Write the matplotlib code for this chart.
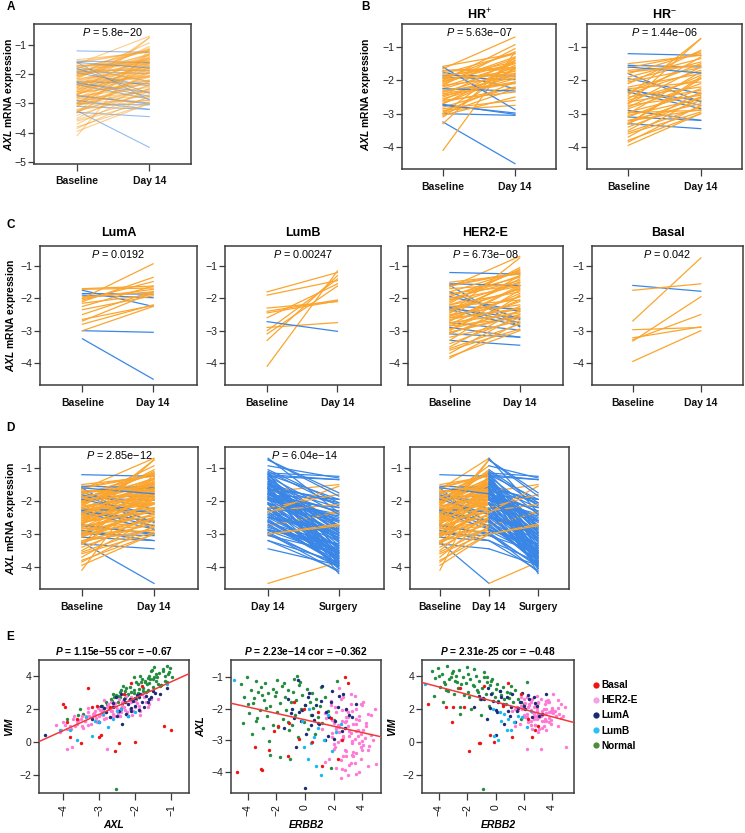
import numpy as np
import matplotlib
matplotlib.use('Agg')
import matplotlib.pyplot as plt
from matplotlib.lines import Line2D

plt.rcParams['font.family'] = ['Liberation Sans', 'DejaVu Sans']
plt.rcParams['mathtext.fontset'] = 'custom'
plt.rcParams['mathtext.rm'] = 'Liberation Sans'
plt.rcParams['mathtext.it'] = 'Liberation Sans:italic'
plt.rcParams['mathtext.bf'] = 'Liberation Sans:italic:bold'

# ---- paired AXL expression per patient (baseline, day 14, surgery) ----
luma_base = [-3.25,-3.00,-1.75,-1.90,-1.85,-2.00,-2.10,-1.70,-1.72,-2.05,-2.25,-2.50,-2.65,-2.70,-3.00,-2.15,-1.95,-2.80,-2.00,-2.35]
luma_d14  = [-4.50,-3.05,-2.25,-1.98,-1.87,-0.93,-1.35,-1.62,-1.68,-1.48,-1.62,-1.78,-2.22,-1.82,-2.25,-1.88,-1.80,-2.20,-1.72,-1.92]
luma_surg = [-3.85,-3.55,-3.60,-2.40,-2.95,-1.30,-2.85,-2.35,-3.20,-2.10,-3.75,-2.55,-4.05,-1.95,-3.40,-2.65,-3.05,-2.60,-3.90,-2.20]

lumb_base = [-1.80,-1.90,-2.30,-2.40,-2.45,-2.60,-2.90,-3.00,-3.10,-3.30,-4.10,-2.72]
lumb_d14  = [-1.20,-1.45,-2.10,-2.05,-2.08,-1.55,-2.75,-1.40,-1.62,-1.30,-1.15,-3.02]
lumb_surg = [-1.35,-2.95,-3.55,-3.05,-2.45,-3.85,-2.30,-3.15,-1.95,-2.75,-3.70,-3.95]

# HER2-enriched, HR positive
her2p_base = [-1.60,-2.25,-2.75,-1.58,-1.65,-1.95,-2.05,-2.20,-2.35,-2.45,-2.55,-2.60,-2.70,-2.85,-2.95,-3.05,-2.15,-1.85]
her2p_d14  = [-2.88,-2.32,-2.98,-1.20,-0.70,-1.15,-1.30,-1.50,-1.72,-1.40,-1.95,-2.35,-1.65,-2.60,-2.05,-2.50,-1.05,-1.60]
her2p_surg = [-3.30,-3.95,-4.15,-1.95,-2.35,-1.25,-3.45,-2.90,-1.50,-3.80,-2.75,-3.10,-4.00,-3.70,-3.65,-3.00,-2.05,-3.55]

# HER2-enriched, HR negative
her2n_base = [-1.20,-1.55,-1.95,-2.30,-2.35,-2.90,-3.10,-3.30,-2.28,-1.80,
              -1.50,-1.62,-1.70,-1.80,-1.90,-2.00,-2.05,-2.10,-2.20,-2.25,-2.35,-2.40,-2.50,-2.55,-2.60,-2.65,-2.70,
              -2.75,-2.80,-2.85,-2.95,-3.00,-3.05,-3.10,-3.20,-3.30,-3.40,-3.50,-3.55,-3.60,-3.70,-3.80,-3.85,-2.45]
her2n_d14  = [-1.25,-1.60,-2.40,-2.62,-2.85,-3.20,-3.20,-3.45,-2.75,-2.65,
              -1.25,-1.20,-1.55,-1.15,-1.35,-1.45,-1.62,-1.10,-1.80,-2.05,-1.50,-1.70,-2.20,-1.30,-1.95,-2.30,-1.60,
              -2.45,-1.85,-2.10,-2.40,-1.75,-2.55,-2.25,-2.70,-1.90,-2.60,-2.35,-2.80,-2.95,-2.50,-3.00,-2.75,-0.75]
her2n_surg = [-1.35,-2.60,-3.75,-3.90,-3.50,-3.85,-4.10,-3.95,-2.35,-3.35,
              -2.40,-3.50,-2.20,-2.80,-3.70,-3.35,-4.20,-2.15,-2.60,-3.40,-2.95,-3.60,-1.80,-3.25,-3.85,-2.10,-2.75,
              -3.55,-3.25,-4.05,-3.20,-2.50,-3.95,-3.10,-3.90,-3.00,-3.75,-1.55,-3.45,-4.00,-2.85,-2.70,-3.80,-1.75]

basal_base = [-1.60,-1.75,-2.70,-2.97,-3.22,-3.28,-3.32,-3.95]
basal_d14  = [-1.78,-1.55,-0.75,-2.90,-2.88,-2.50,-1.95,-3.00]
basal_surg = [-2.30,-2.05,-1.85,-3.65,-3.30,-3.60,-3.15,-2.75]

p_all = '5.8e\u221220'
p_hr = ['5.63e\u221207', '1.44e\u221206']
p_sub = ['0.0192', '0.00247', '6.73e\u221208', '0.042']
p_time = ['2.85e\u221212', '6.04e\u221214']

# ---- scatter data (AXL, VIM, ERBB2) by PAM50 subtype ----
normal_axl = [-1.22,-1.63,-1.02,-2.14,-1.41,-1.83,-2.38,-1.12,-1.49,-2.03,
              -1.33,-2.61,-1.72,-1.18,-2.24,-1.52,-3.46,-1.91,-1.38,-2.52,
              -1.61,-1.09,-2.12,-1.81,-3.52,-1.29,-2.33,-1.62,-2.04,-1.43,
              -2.68,-1.78,-2.52,-1.47,-2.19,-1.73,-2.91,-1.27,-2.02,-1.58,
              -2.42,-1.88,-1.37,-2.63,-1.79,-2.21,-1.51,-1.98,-2.79,-1.69,
              -2.28,-1.92,-2.47,-1.63,-2.08,-3.88,-2.37,-2.81,-3.02,-3.58,
              -1.87,-1.57,-1.48,-1.21,-1.06,-2.29,-1.97,-2.58,-2.43,-1.16,
              -1.31,-2.47,-1.68,-0.98,-1.12]
normal_vim = [4.31,3.88,4.47,3.36,4.12,3.62,3.18,4.63,3.81,3.92,
              4.18,2.91,3.69,4.03,3.27,4.38,1.72,3.53,3.94,2.83,
              3.58,4.14,3.02,3.79,1.98,3.48,3.41,4.02,3.13,3.72,
              2.61,3.29,-2.86,3.91,2.93,3.61,2.18,3.44,2.98,3.83,
              2.72,3.21,3.52,2.47,3.08,2.84,3.33,2.62,2.31,3.02,
              2.68,2.94,2.42,3.17,2.58,1.41,2.29,2.43,2.12,1.63,
              4.01,4.33,4.52,4.41,4.22,3.12,3.64,2.73,3.04,3.68,
              3.39,2.81,3.49,3.93,3.62]
normal_erbb2 = [-4.52,-4.28,-4.07,-3.93,-3.76,-3.63,-3.47,-3.41,-3.27,-3.18,
                -3.06,-2.97,-2.88,-2.79,-2.66,-2.61,-2.48,-2.42,-2.27,-2.23,
                -2.08,-1.97,-1.93,-1.78,-1.72,-1.58,-1.53,-1.37,-1.31,-1.18,
                -1.12,-0.98,-0.88,-0.81,-0.67,-0.62,-0.48,-0.41,-0.28,-0.22,
                -0.07,0.03,0.12,0.18,0.33,0.41,0.52,0.58,0.72,0.79,
                0.93,1.02,1.21,1.38,1.62,1.81,2.03,-3.72,-2.53,-1.04,
                -4.02,-2.99,-2.02,-1.49,-0.79,-3.38,-2.71,-1.88,-1.22,-0.33,
                1.09,-4.38,-3.57,-0.58,2.21]

her2_axl = [-1.55,-1.70,-1.80,-1.90,-2.00,-2.05,-2.10,-2.20,-2.25,-2.30,-2.35,-2.40,-2.45,-2.50,-2.55,-2.60,-2.65,-2.70,-2.75,-2.80,
            -2.85,-2.90,-2.95,-3.00,-3.05,-3.10,-3.20,-3.30,-3.40,-3.50,-3.60,-3.70,-3.80,-3.90,-4.00,-4.10,-4.20,-2.15,-2.42,-2.68,
            -3.15,-3.75,-3.88,-2.00,-2.78,
            -1.65,-1.85,-1.95,-2.08,-2.18,-2.28,-2.38,-2.48,-2.58,-2.68,-2.78,-2.88,-2.98,-3.08,-3.18,-3.28,-3.38,-3.48,-3.58,-3.68,
            -2.12,-2.52,-2.92,-3.32,-3.72,-1.75,-2.33,-2.63,-3.02,-3.45,
            -1.35,-1.60,-1.90,-2.05,-2.22,-2.35,-2.45,-2.55,-2.62,-2.72,-2.82,-2.92,-3.02,-3.12,-3.22,-3.35,-3.48,-3.62,-3.78,-3.95,
            -4.05,-2.25,-2.85,-3.30,-1.85]
her2_vim = [2.60,2.40,2.90,2.20,2.50,1.90,2.70,2.30,1.70,2.10,2.40,1.80,2.60,2.00,1.60,2.20,1.90,1.50,2.30,1.80,
            1.40,2.00,1.70,1.60,1.20,1.90,1.50,1.80,1.30,1.40,1.10,1.60,1.00,0.80,1.20,0.60,1.05,2.00,1.55,2.45,
            1.75,-0.30,-0.40,2.10,-0.45,
            2.15,1.85,2.35,1.65,2.55,1.95,2.05,1.75,2.25,1.85,2.10,1.65,1.95,1.45,1.70,1.55,1.25,1.60,1.35,0.95,
            2.40,2.15,1.85,1.05,1.40,2.70,2.50,1.50,2.05,0.85,
            2.60,2.30,2.00,2.60,1.80,2.20,1.55,2.35,1.70,2.00,1.45,1.75,1.30,1.65,1.10,1.55,1.00,1.25,0.80,1.05,
            0.70,2.80,2.55,2.05,1.65]
her2_erbb2 = [3.2,2.5,4.1,1.8,3.6,2.9,2.2,4.6,3.0,1.5,3.8,2.6,2.0,3.4,4.3,2.8,1.2,3.1,2.4,3.9,
              2.7,1.9,3.5,4.8,2.3,3.3,2.1,4.0,3.6,2.9,1.7,3.2,4.4,2.6,3.8,3.0,2.5,1.4,2.8,3.7,
              4.1,5.0,2.2,4.9,3.2,
              2.7,3.9,2.1,3.3,4.4,1.6,2.9,3.6,2.4,4.1,1.9,3.1,2.5,3.8,4.5,2.0,3.4,2.7,3.9,1.4,
              3.0,2.3,4.2,2.8,3.5,1.8,3.6,2.2,4.0,3.3,
              2.4,3.5,4.0,2.6,3.8,1.9,4.3,3.0,2.2,3.6,4.6,2.7,3.3,2.0,3.9,2.9,3.4,2.5,3.1,2.8,
              3.6,2.9,3.7,4.4,3.2]

luma_axl = [-1.10,-1.30,-1.50,-1.60,-1.70,-1.80,-1.90,-2.00,-2.05,-2.10,-2.20,-2.25,-2.30,-2.40,-2.50,-2.60,-2.70,-2.80,-3.00,-3.20,
            -1.85,-2.15,-2.35,-4.50,-2.95,
            -1.45,-1.65,-1.95,-2.12,-2.28,-2.45,-2.62,-1.75,-2.00,-2.52,-1.55,-2.85,-2.20,-1.90,-2.38]
luma_vim = [3.30,2.90,3.10,2.60,2.80,2.40,2.70,2.20,2.50,1.90,2.30,1.70,2.60,2.00,1.60,2.10,1.50,1.80,1.20,1.40,
            2.90,2.60,1.10,0.40,2.20,
            3.00,2.45,2.85,2.05,2.45,1.85,2.35,2.15,2.65,2.75,2.70,2.05,1.55,1.95,2.90]
luma_erbb2 = [-0.5,1.2,0.3,2.4,-1.2,1.8,0.8,2.9,-0.2,1.5,0.5,3.3,-0.8,2.1,1.0,-1.5,2.6,0.1,1.4,-0.6,
              3.6,-1.0,0.6,0.0,2.0,
              1.9,0.2,2.3,-0.4,1.7,0.9,2.8,1.1,-0.9,0.4,2.7,1.6,3.1,0.0,-0.3]

lumb_axl = [-2.00,-2.20,-2.40,-2.60,-2.75,-2.90,-3.00,-3.20,-3.35,-3.60,-3.80,-4.10,-2.50,-3.10,-1.10]
lumb_vim = [1.80,1.60,2.00,1.40,0.90,1.70,1.20,0.35,1.50,0.10,0.70,0.70,1.90,1.30,3.50]
lumb_erbb2 = [0.3,1.6,-0.2,0.9,2.2,0.6,1.3,-0.1,1.9,0.2,0.8,1.1,2.5,0.4,-5.0]

basal_axl = [-4.00,-3.95,-3.80,-3.50,-3.30,-3.05,-3.00,-2.95,-2.55,-2.45,-2.00,-1.20,-1.00,-2.70,-2.30,-3.20,-1.80,-3.90,-2.10,-3.60]
basal_vim = [2.30,2.10,0.30,-0.05,3.30,2.20,0.30,0.40,-0.55,-0.05,0.00,1.00,0.75,2.10,2.90,2.15,3.40,1.20,3.60,1.40]
basal_erbb2 = [-4.8,-3.0,1.2,-1.2,-2.5,0.5,2.6,-0.4,-1.9,-1.1,-0.1,3.0,2.8,-2.2,1.8,-3.5,-0.8,-3.1,0.9,2.3]

subtypes = ['Basal', 'HER2-E', 'LumA', 'LumB', 'Normal']
sub_colors = ['#EE1414', '#FF7AD6', '#1B2C78', '#18B8F2', '#238C3E']
leg_colors = ['#EE1414', '#F7A0EA', '#1B2C6E', '#2CC0F5', '#4E8B3A']
e_titles = ['1.15e\u221255 cor = \u22120.67', '2.23e\u221214 cor = \u22120.362', '2.31e-25 cor = \u22120.48']

ORANGE = '#FBA52E'
BLUE = '#3A86E6'
W, H = 745, 833

fig = plt.figure(figsize=(W / 100, H / 100), dpi=100)


def box(l, t, r, b):
    return fig.add_axes([l / W, 1 - b / H, (r - l) / W, (b - t) / H])


def ftext(x, y, s, **kw):
    fig.text(x / W, 1 - y / H, s, **kw)


def style(ax, xlim, ylim, yticks, ylab=7.6):
    ax.set_xlim(xlim)
    ax.set_ylim(ylim)
    for s in ax.spines.values():
        s.set_color('#3c3c3c')
        s.set_linewidth(1.1)
    ax.set_yticks(yticks)
    ax.tick_params(axis='y', length=4, width=0.9, pad=1.5, labelsize=ylab, color='#3c3c3c', labelcolor='#222222')
    ax.tick_params(axis='x', length=5, width=0.9, pad=4, labelsize=7.5, color='#3c3c3c', labelcolor='#111111')


def pairs(ax, a, b, x0=1, lw=0.9, alpha=1.0):
    for u, v in zip(a, b):
        ax.plot([x0, x0 + 1], [u, v], color=ORANGE if v > u else BLUE, lw=lw, alpha=alpha)


def ptext(ax, s, hpx):
    ax.text(0.5, 1 - 8.5 / hpx, r'$P$ = ' + s, transform=ax.transAxes, ha='center', va='center', fontsize=7.8)


def ylab(x, y):
    ftext(x, y, r'$\mathbf{AXL}$ mRNA expression', rotation=90, ha='center', va='center',
          fontsize=7.4, fontweight='bold')


all_base = luma_base + lumb_base + her2p_base + her2n_base + basal_base
all_d14 = luma_d14 + lumb_d14 + her2p_d14 + her2n_d14 + basal_d14
all_surg = luma_surg + lumb_surg + her2p_surg + her2n_surg + basal_surg

# ---------------- A ----------------
ax = box(34, 24, 191, 164)
pairs(ax, all_base, all_d14, lw=0.8, alpha=0.55)
style(ax, (0.40, 2.58), (-5.07, -0.28), [-5, -4, -3, -2, -1])
ax.set_xticks([1, 2], ['Baseline', 'Day 14'], fontweight='bold')
ptext(ax, p_all, 140)
ylab(9, 94)
ftext(11, 7, 'A', fontsize=8.5, fontweight='bold', va='center', ha='center')

# ---------------- B ----------------
hr_sets = [(luma_base + lumb_base + her2p_base, luma_d14 + lumb_d14 + her2p_d14),
           (her2n_base + basal_base, her2n_d14 + basal_d14)]
for i, (l, r, title) in enumerate([(402, 556, r'HR$^{+}$'), (587, 742, r'HR$^{-}$')]):
    ax = box(l, 24, r, 169)
    pairs(ax, hr_sets[i][0], hr_sets[i][1])
    style(ax, (0.43, 2.57), (-4.66, -0.31), [-4, -3, -2, -1])
    ax.set_xticks([1, 2], ['Baseline', 'Day 14'], fontweight='bold')
    ptext(ax, p_hr[i], 145)
    ftext((l + r) / 2, 15, title, fontsize=9, fontweight='bold', ha='center', va='center')
ylab(366, 94)
ftext(366, 7, 'B', fontsize=8.5, fontweight='bold', va='center', ha='center')

# ---------------- C ----------------
sub_sets = [(luma_base, luma_d14, 'LumA'), (lumb_base, lumb_d14, 'LumB'),
            (her2p_base + her2n_base, her2p_d14 + her2n_d14, 'HER2-E'), (basal_base, basal_d14, 'Basal')]
c_boxes = [(40, 197), (225, 381), (408, 563), (592, 743)]
for i, (l, r) in enumerate(c_boxes):
    ax = box(l, 246, r, 385)
    pairs(ax, sub_sets[i][0], sub_sets[i][1])
    style(ax, (0.40, 2.62), (-4.68, -0.38), [-4, -3, -2, -1])
    ax.set_xticks([1, 2], ['Baseline', 'Day 14'], fontweight='bold')
    ptext(ax, p_sub[i], 139)
    ftext((l + r) / 2, 233, sub_sets[i][2], fontsize=9, fontweight='bold', ha='center', va='center')
ylab(11, 315)
ftext(11, 225, 'C', fontsize=8.5, fontweight='bold', va='center', ha='center')

# ---------------- D ----------------
ax = box(40, 447, 198, 589)
pairs(ax, all_base, all_d14)
style(ax, (0.42, 2.61), (-4.67, -0.36), [-4, -3, -2, -1])
ax.set_xticks([1, 2], ['Baseline', 'Day 14'], fontweight='bold')
ptext(ax, p_time[0], 142)

ax = box(225, 447, 384, 589)
pairs(ax, all_d14, all_surg)
style(ax, (0.39, 2.64), (-4.67, -0.36), [-4, -3, -2, -1])
ax.set_xticks([1, 2], ['Day 14', 'Surgery'], fontweight='bold')
ptext(ax, p_time[1], 142)

ax = box(410, 447, 569, 589)
pairs(ax, all_base, all_d14, x0=1)
pairs(ax, all_d14, all_surg, x0=2)
style(ax, (0.39, 3.63), (-4.67, -0.36), [-4, -3, -2, -1])
ax.set_xticks([1, 2, 3], ['Baseline', 'Day 14', 'Surgery'], fontweight='bold')
ylab(11, 518)
ftext(10, 428, 'D', fontsize=8.5, fontweight='bold', va='center', ha='center')

# ---------------- E ----------------
sc_axl = [basal_axl, her2_axl, luma_axl, lumb_axl, normal_axl]
sc_vim = [basal_vim, her2_vim, luma_vim, lumb_vim, normal_vim]
sc_erbb2 = [basal_erbb2, her2_erbb2, luma_erbb2, lumb_erbb2, normal_erbb2]
e_specs = [
    ((39, 660, 189, 793), sc_axl, sc_vim, 'AXL', 'VIM', (-4.67, -0.5), (-3.09, 4.97), [-4, -3, -2, -1], [-2, 0, 2, 4]),
    ((231, 660, 381, 793), sc_erbb2, sc_axl, 'ERBB2', 'AXL', (-5.19, 5.33), (-4.66, -0.47), [-4, -2, 0, 2, 4], [-4, -3, -2, -1]),
    ((422, 660, 574, 793), sc_erbb2, sc_vim, 'ERBB2', 'VIM', (-5.2, 5.55), (-3.09, 4.97), [-4, -2, 0, 2, 4], [-2, 0, 2, 4]),
]
draw_order = [4, 1, 2, 3, 0]
for i, (bx, xs, ys, xl, yl, xlim, ylim, xt, yt) in enumerate(e_specs):
    ax = box(*bx)
    for k in draw_order:
        ax.scatter(xs[k], ys[k], s=6, color=sub_colors[k], linewidths=0, zorder=2)
    allx = np.concatenate([np.array(v, float) for v in xs])
    ally = np.concatenate([np.array(v, float) for v in ys])
    fit = np.polyfit(allx, ally, 1)
    xx = np.array(xlim)
    ax.plot(xx, np.polyval(fit, xx), color='#F23A3A', lw=1.1, zorder=3)
    style(ax, xlim, ylim, yt, ylab=7.5)
    ax.set_xticks(xt)
    ax.tick_params(axis='x', labelrotation=90, pad=3, labelsize=7.5, length=5)
    ax.set_xlabel(xl, fontsize=7.5, fontweight='bold', fontstyle='italic', labelpad=3)
    ax.set_ylabel(yl, fontsize=7.5, fontweight='bold', fontstyle='italic', labelpad=4)
    ftext((bx[0] + bx[2]) / 2, 651, r'$\mathbf{P}$ = ' + e_titles[i], fontsize=7.3, fontweight='bold',
          ha='center', va='center')
ftext(10, 637, 'E', fontsize=8.5, fontweight='bold', va='center', ha='center')

handles = [Line2D([], [], ls='', marker='o', markersize=4.5, markeredgewidth=0, color=c) for c in leg_colors]
fig.legend(handles, subtypes, loc='upper left', bbox_to_anchor=(591 / W, 1 - 680 / H), frameon=False,
           prop={'weight': 'bold', 'size': 7.2}, handletextpad=0.15, labelspacing=0.52, handlelength=0.9,
           borderpad=0, borderaxespad=0)

fig.savefig('out.png', dpi=100)
